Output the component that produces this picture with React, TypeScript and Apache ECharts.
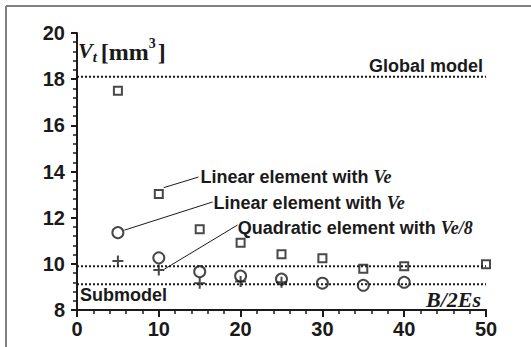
import React, { useEffect, useRef } from "react";
import * as echarts from "echarts";

const squareX = [5, 10, 15, 20, 25, 30, 35, 40, 50];
const squareValues = [17.5, 13.02, 11.5, 10.91, 10.41, 10.24, 9.79, 9.9, 9.98];
const circleX = [5, 10, 15, 20, 25, 30, 35, 40];
const circleValues = [11.35, 10.26, 9.66, 9.47, 9.34, 9.16, 9.07, 9.2];
const plusX = [5, 10, 15, 20, 25];
const plusValues = [10.12, 9.73, 9.16, 9.23, 9.2];

const globalModel = 18.1;
const midLine = 9.9;
const subModel = 9.12;

const xTicks = [0, 10, 20, 30, 40, 50];
const yTicks = [8, 10, 12, 14, 16, 18, 20];

// leader lines in data coordinates: [from, to]
const leader1 = [[10.6, 13.3], [14.85, 13.76]];
const leader2 = [[5.8, 11.46], [16.58, 12.68]];
const leader3 = [[10.68, 9.77], [19.62, 11.68]];

// annotation text anchors (data coords) and texts
const annotations = [
  { pos: [15.1, 13.78], main: "Linear element with ", ital: "Ve" },
  { pos: [16.7, 12.65], main: "Linear element with ", ital: "Ve" },
  { pos: [19.65, 11.55], main: "Quadratic element with ", ital: "Ve/8" },
];

const SANS = "'Liberation Sans', Arial, Helvetica, sans-serif";
const SERIF = "'Liberation Serif', 'Times New Roman', Times, serif";
const INK = "#1a1a1a";

const pairs = (xs: number[], ys: number[]) => xs.map((x, i) => [x, ys[i]]);

export default function App() {
  const ref = useRef<HTMLDivElement>(null);
  useEffect(() => {
    const chart = echarts.init(ref.current!, null, { renderer: "svg" });
    const dotted = { color: INK, width: 2, type: [2, 2] as any };
    const leaderStyle = { color: INK, width: 1 };
    chart.setOption({
      animation: false,
      backgroundColor: "#fff",
      grid: { left: 77, right: 45, top: 33, bottom: 37 },
      xAxis: {
        type: "value",
        min: 0,
        max: 50,
        interval: 10,
        axisLine: { show: true, onZero: false, lineStyle: { color: INK, width: 2 } },
        axisTick: { show: true, length: 7, lineStyle: { color: INK, width: 2 } },
        minorTick: { show: true, splitNumber: 5, length: 4, lineStyle: { color: INK, width: 1.5 } },
        splitLine: { show: false },
        axisLabel: {
          margin: 9,
          color: INK,
          fontFamily: SANS,
          fontWeight: "bold",
          fontSize: 20,
          formatter: (v: number) => (xTicks.includes(v) ? String(v) : ""),
        },
      },
      yAxis: {
        type: "value",
        min: 8,
        max: 20,
        interval: 2,
        axisLine: { show: true, lineStyle: { color: INK, width: 2 } },
        axisTick: { show: true, length: 6, lineStyle: { color: INK, width: 2 } },
        minorTick: { show: true, splitNumber: 5, length: 4, lineStyle: { color: INK, width: 1.5 } },
        splitLine: { show: false },
        axisLabel: {
          margin: 12,
          color: INK,
          fontFamily: SANS,
          fontWeight: "bold",
          fontSize: 20,
          formatter: (v: number) => (yTicks.includes(v) ? String(v) : ""),
        },
      },
      series: [
        { type: "line", data: [[0, globalModel], [50, globalModel]], symbol: "none", lineStyle: dotted, z: 1 },
        { type: "line", data: [[0, midLine], [50, midLine]], symbol: "none", lineStyle: dotted, z: 1 },
        { type: "line", data: [[0, subModel], [50, subModel]], symbol: "none", lineStyle: dotted, z: 1 },
        { type: "line", data: leader1, symbol: "none", lineStyle: leaderStyle, z: 1 },
        { type: "line", data: leader2, symbol: "none", lineStyle: leaderStyle, z: 1 },
        { type: "line", data: leader3, symbol: "none", lineStyle: leaderStyle, z: 1 },
        {
          type: "scatter",
          data: pairs(squareX, squareValues),
          symbol: "rect",
          symbolSize: 8,
          itemStyle: { color: "transparent", borderColor: INK, borderWidth: 2 },
          z: 3,
        },
        {
          type: "scatter",
          data: pairs(circleX, circleValues),
          symbol: "circle",
          symbolSize: 11,
          itemStyle: { color: "transparent", borderColor: INK, borderWidth: 2 },
          z: 3,
        },
        {
          type: "scatter",
          data: pairs(plusX, plusValues),
          symbol: "path://M5,0L5,10M0,5L10,5",
          symbolSize: 11,
          itemStyle: { color: "transparent", borderColor: INK, borderWidth: 2 },
          z: 4,
        },
      ],
    });

    const toPx = (p: number[]) => chart.convertToPixel({ gridIndex: 0 }, p) as number[];
    const annGraphics = annotations.map((a) => {
      const [x, y] = toPx(a.pos);
      return {
        type: "text",
        x,
        y,
        style: {
          text: `{a|${a.main}}{b|${a.ital}}`,
          verticalAlign: "middle",
          align: "left",
          rich: {
            a: { fontFamily: SANS, fontWeight: "bold", fontSize: 18, fill: INK },
            b: { fontFamily: SERIF, fontWeight: "bold", fontStyle: "italic", fontSize: 18, fill: INK },
          },
        },
        z: 10,
      };
    });

    const serifBold = { fontFamily: SERIF, fontWeight: "bold", fill: INK, verticalAlign: "top" };

    chart.setOption({
      graphic: [
        { type: "line", shape: { x1: 6, y1: 6, x2: 531, y2: 6 }, style: { stroke: "#808080", lineWidth: 2 } },
        { type: "line", shape: { x1: 6, y1: 6, x2: 6, y2: 347 }, style: { stroke: "#808080", lineWidth: 2 } },
        {
          type: "text",
          x: 483,
          y: 66,
          style: { text: "Global model", align: "right", verticalAlign: "middle", fontFamily: SANS, fontWeight: "bold", fontSize: 18, fill: INK },
        },
        {
          type: "text",
          x: 80,
          y: 295,
          style: { text: "Submodel", align: "left", verticalAlign: "middle", fontFamily: SANS, fontWeight: "bold", fontSize: 18, fill: INK },
        },
        {
          type: "text",
          x: 481,
          y: 299,
          style: { text: "B/2Es", align: "right", verticalAlign: "middle", fontFamily: SERIF, fontWeight: "bold", fontStyle: "italic", fontSize: 22, fill: INK },
        },
        {
          type: "text",
          x: 78,
          y: 35,
          style: {
            text: "{v|V}{t|t}{m|[mm}{s|3}{m|]}",
            align: "left",
            verticalAlign: "top",
            rich: {
              v: { ...serifBold, fontStyle: "italic", fontSize: 22, padding: [4, 0, 0, 0] },
              t: { ...serifBold, fontStyle: "italic", fontSize: 15, padding: [14, 0, 0, 0], width: 8 },
              m: { ...serifBold, fontSize: 24, padding: [5, 0, 0, 0] },
              s: { ...serifBold, fontSize: 14, padding: [1, 0, 0, 0], width: 9 },
            },
          },
        },
        ...annGraphics,
      ],
    });
    return () => chart.dispose();
  }, []);
  return (
    <div
      ref={ref}
      style={{ position: "absolute", left: 0, top: 0, width: 531, height: 347, background: "#fff" }}
    />
  );
}
